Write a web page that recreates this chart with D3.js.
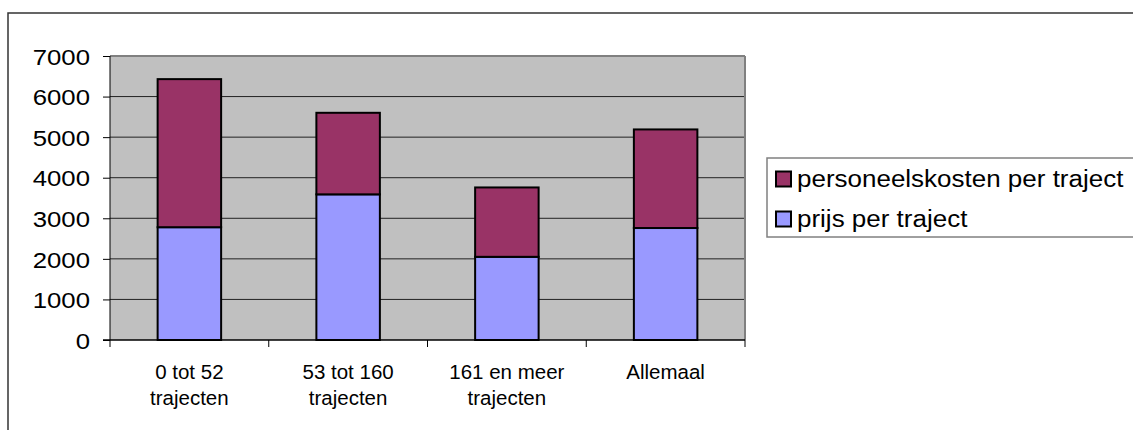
<!DOCTYPE html>
<html><head><meta charset="utf-8">
<script src="https://cdn.jsdelivr.net/npm/d3@7"></script>
<style>html,body{margin:0;padding:0;background:#fff;overflow:hidden}</style>
</head><body>
<svg id="c" width="1133" height="430"></svg>
<script>
const categories = [["0 tot 52","trajecten"],["53 tot 160","trajecten"],["161 en meer","trajecten"],["Allemaal"]];
const seriesNames = ["prijs per traject","personeelskosten per traject"];
const prijs = [2780, 3590, 2050, 2760];
const personeel = [3650, 2010, 1710, 2430];
const yTicks = [0,1000,2000,3000,4000,5000,6000,7000];
const colors = ["#9999FF","#993366"];

const svg = d3.select("#c");
const font = "'Liberation Sans', Arial, sans-serif";
const SX = 1.12;
// outer frame
svg.append("rect").attr("x",8).attr("y",13).attr("width",1140).attr("height",440)
  .attr("fill","#fff").attr("stroke","#333").attr("stroke-width",1.5);

const L=110, R=745, T=56, B=340;
const idx = categories.map((d,i)=>i);
const x = d3.scaleBand().domain(idx).range([L,R]).paddingInner(0.6).paddingOuter(0.3);
const xb = d3.scaleBand().domain(idx).range([L,R]);
const y = d3.scaleLinear().domain([0,7000]).range([B,T]);

svg.append("rect").attr("x",L).attr("y",T).attr("width",R-L).attr("height",B-T).attr("fill","#C0C0C0");
// gridlines
svg.append("g").selectAll("line").data(yTicks.filter(v=>v>0&&v<7000)).join("line")
  .attr("x1",L).attr("x2",R).attr("y1",d=>y(d)).attr("y2",d=>y(d))
  .attr("stroke","#222").attr("stroke-width",1);
// top and right border of plot area
svg.append("line").attr("x1",L).attr("x2",R).attr("y1",T).attr("y2",T).attr("stroke","#808080").attr("stroke-width",2);
svg.append("line").attr("x1",R).attr("x2",R).attr("y1",T).attr("y2",B).attr("stroke","#808080").attr("stroke-width",2);

// stacked bars
const stackData = idx.map(i=>({i, a:prijs[i], b:personeel[i]}));
const stacked = d3.stack().keys(["a","b"])(stackData);
stacked.forEach((s,si)=>{
  svg.append("g").selectAll("rect").data(s).join("rect")
    .attr("x",d=>x(d.data.i)).attr("width",x.bandwidth())
    .attr("y",d=>y(d[1])).attr("height",d=>y(d[0])-y(d[1]))
    .attr("fill",colors[si]).attr("stroke","#000").attr("stroke-width",2);
});

// y axis
const ya = d3.axisLeft(y).tickValues(yTicks).tickFormat(d3.format("d")).tickSize(7).tickPadding(13);
const gy = svg.append("g").attr("transform",`translate(${L},0)`).call(ya);
gy.select(".domain").attr("stroke","#000").attr("d",`M0,${T}V${B}`);
gy.selectAll(".tick line").attr("stroke","#000");
gy.selectAll("text").attr("font-family",font).attr("font-size",23).attr("fill","#000").attr("dy","0.36em")
  .attr("x",-20/SX).attr("transform",`scale(${SX},1)`);

// x axis
svg.append("line").attr("x1",L-7).attr("x2",R).attr("y1",B).attr("y2",B).attr("stroke","#000").attr("stroke-width",1.5);
svg.append("g").selectAll("line").data(d3.range(categories.length+1)).join("line")
  .attr("x1",d=>L+d*xb.step()).attr("x2",d=>L+d*xb.step()).attr("y1",B).attr("y2",B+7)
  .attr("stroke","#000");
const xl = svg.append("g").selectAll("text").data(idx).join("text")
  .attr("x",i=>xb(i)+xb.bandwidth()/2).attr("y",378.5)
  .attr("text-anchor","middle").attr("font-family",font).attr("font-size",20.5).attr("fill","#000");
xl.each(function(i){
  const t=d3.select(this);
  categories[i].forEach((line,k)=>t.append("tspan").attr("x",xb(i)+xb.bandwidth()/2).attr("dy",k?26:0).text(line));
});

// legend
svg.append("rect").attr("x",767).attr("y",158).attr("width",400).attr("height",79)
  .attr("fill","#fff").attr("stroke","#808080").attr("stroke-width",1.5);
const legItems = [{n:seriesNames[1],c:colors[1]},{n:seriesNames[0],c:colors[0]}];
const lg = svg.append("g").selectAll("g").data(legItems).join("g")
  .attr("transform",(d,k)=>`translate(776,${179+k*40})`);
lg.append("rect").attr("x",0).attr("y",-7.5).attr("width",15).attr("height",15)
  .attr("fill",d=>d.c).attr("stroke","#000").attr("stroke-width",2);
lg.append("text").attr("x",21/1.13).attr("y",0).attr("dy","0.35em").attr("transform","scale(1.13,1)")
  .attr("font-family",font).attr("font-size",23).attr("fill","#000").text(d=>d.n);
</script>
</body></html>
